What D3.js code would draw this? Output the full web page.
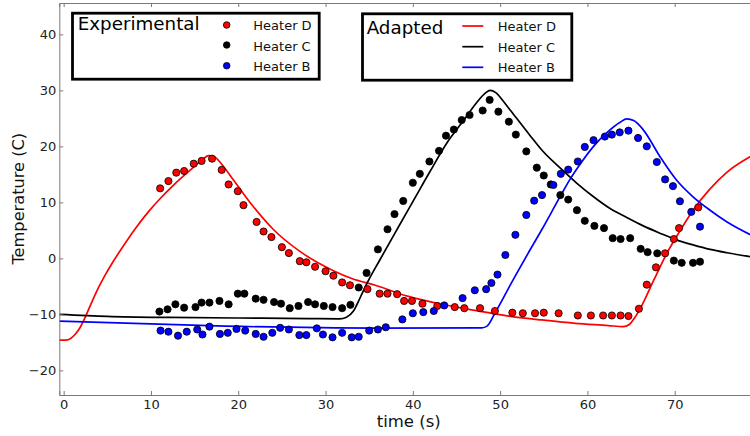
<!DOCTYPE html>
<html>
<head>
<meta charset="utf-8">
<script src="https://cdn.jsdelivr.net/npm/d3@7"></script>
<style>
  html, body { margin: 0; padding: 0; background: #fff; }
  svg { display: block; font-family: "DejaVu Sans", sans-serif; }
</style>
</head>
<body>
<svg id="chart" width="750" height="436"></svg>
<script>
// ---------- data ----------
const xTicks = [0, 10, 20, 30, 40, 50, 60, 70];
const yTicks = [-20, -10, 0, 10, 20, 30, 40];

// Experimental (scatter) [time, temperature]
const expD = [[11.05,12.5],[12.0,13.8],[12.9,15.3],[13.8,15.6],[14.9,16.9],[15.8,17.4],[17.0,17.8],[18.1,15.8],[18.9,13.2],[19.95,12.0],[20.6,9.5],[22.1,6.5],[22.9,4.8],[23.8,3.8],[25.0,2.0],[25.8,0.95],[27.05,-0.5],[27.8,-0.7],[28.8,-1.5],[30.0,-2.3],[30.9,-3.1],[31.9,-4.3],[32.8,-4.8],[34.8,-5.5],[36.2,-6.3],[37.1,-6.3],[38.2,-6.4],[39.0,-7.6],[39.9,-7.6],[41.1,-8.1],[42.8,-8.5],[44.8,-8.7],[45.9,-8.9],[47.7,-8.9],[49.4,-9.4],[51.4,-9.7],[52.6,-9.8],[54.0,-9.8],[55.0,-9.7],[56.7,-9.8],[58.9,-10.2],[60.4,-10.2],[61.8,-10.2],[62.8,-10.2],[63.8,-10.2],[64.7,-10.3],[65.9,-9.0],[66.8,-4.7],[67.85,-1.6],[68.9,0.9],[69.9,3.45],[70.5,5.4],[72.7,9.1]];
const expC = [[10.97,-9.5],[11.9,-9.1],[12.8,-8.2],[13.8,-8.8],[15.1,-8.7],[15.8,-7.9],[16.7,-7.9],[17.85,-7.6],[18.9,-8.2],[19.95,-6.3],[20.7,-6.3],[22.0,-7.2],[22.9,-7.4],[24.1,-7.8],[24.9,-8.1],[25.9,-8.9],[26.9,-8.5],[28.0,-7.8],[28.8,-8.2],[29.8,-8.5],[30.8,-8.7],[31.9,-8.9],[32.85,-8.3],[33.8,-5.2],[34.7,-2.6],[36.0,1.6],[37.1,5.2],[37.9,7.9],[38.9,10.25],[40.0,13.5],[40.8,15.1],[41.9,17.3],[43.0,19.2],[43.8,21.9],[44.7,23.0],[45.6,24.7],[46.5,25.6],[48.0,26.4],[48.8,28.3],[49.8,26.2],[51.0,24.4],[51.8,22.1],[53.0,19.1],[54.2,16.2],[55.0,14.8],[55.8,13.2],[56.9,11.3],[57.8,10.5],[58.8,8.6],[59.7,6.7],[60.8,5.8],[61.9,5.4],[62.9,3.6],[63.8,3.45],[64.9,3.6],[66.1,1.7],[66.9,1.1],[68.0,0.9],[69.9,-0.4],[70.8,-0.8],[72.1,-0.8],[72.9,-0.6]];
const expB = [[11.1,-12.9],[12.0,-13.1],[13.1,-13.8],[14.1,-13.1],[15.3,-12.7],[15.9,-13.6],[16.7,-12.2],[17.9,-13.5],[18.8,-13.3],[19.8,-12.6],[20.8,-12.9],[22.0,-13.5],[22.9,-14.0],[23.9,-13.3],[24.8,-12.4],[25.8,-12.7],[27.0,-13.7],[27.8,-13.7],[29.0,-12.5],[29.7,-13.6],[30.8,-14.1],[31.9,-13.3],[33.0,-14.1],[33.8,-14.0],[35.0,-12.9],[36.0,-12.7],[36.9,-12.3],[38.8,-10.9],[40.0,-9.8],[41.2,-9.6],[42.4,-9.4],[43.6,-8.4],[45.7,-7.1],[47.1,-5.7],[48.4,-5.5],[49.0,-4.4],[49.7,-2.9],[50.6,0.6],[51.75,4.2],[53.0,7.75],[53.9,10.3],[54.8,11.3],[56.1,13.1],[56.95,15.1],[57.8,15.85],[58.9,17.3],[59.7,19.9],[60.7,21.1],[62.0,21.75],[62.8,22.1],[63.7,22.5],[64.7,22.8],[65.8,21.5],[66.8,20.0],[67.95,17.2],[68.9,14.1],[69.8,12.9],[70.6,10.2],[71.9,8.3],[72.9,5.65]];

// Adapted (model lines) [time, temperature]
const modD = [[-0.5,-14.6],[0.3,-14.6],[0.8,-14.3],[1.3,-13.6],[1.9,-12.3],[2.5,-10.4],[3.2,-7.9],[4.0,-5.2],[4.75,-3.0],[5.5,-1.0],[6.7,1.9],[8.2,5.3],[9.7,8.3],[11.25,11.0],[12.8,13.4],[14.3,15.5],[15.8,17.5],[16.6,18.35],[17.3,18.1],[18.1,16.8],[19.45,14.0],[21.7,9.3],[24.0,5.2],[27.1,1.2],[30.9,-2.2],[33.0,-3.6],[35.7,-4.8],[39.5,-6.8],[43.3,-8.2],[47.1,-9.3],[50.95,-10.3],[54.8,-11.0],[58.6,-11.6],[62.4,-12.0],[64.1,-12.2],[64.8,-11.8],[65.5,-10.4],[66.3,-8.2],[67.6,-3.9],[69.1,0.9],[70.6,4.9],[72.1,8.6],[74.05,12.4],[76.0,15.4],[78.7,18.2]];
const modC = [[-0.5,-10.0],[5,-10.35],[12,-10.55],[20,-10.65],[28,-10.75],[31.6,-10.8],[32.4,-10.5],[33.2,-9.4],[34.0,-6.9],[34.8,-4.3],[36.25,-0.2],[38.2,5.2],[40.1,10.4],[42.0,15.6],[43.9,20.6],[45.8,24.6],[47.3,27.8],[48.3,29.5],[48.85,30.0],[49.5,29.6],[50.3,28.2],[51.1,26.6],[53.4,22.0],[54.8,19.3],[56.9,16.1],[58.8,13.4],[60.7,11.0],[62.6,8.9],[64.5,7.3],[66.4,5.8],[68.3,4.5],[70.2,3.3],[72.1,2.4],[74.05,1.6],[76.0,1.0],[78.7,0.3]];
const modB = [[-0.5,-11.2],[18.5,-12.1],[35.7,-12.45],[47.9,-12.4],[48.5,-12.1],[49.4,-9.8],[51.5,-3.8],[53.2,0.9],[54.8,5.2],[56.9,11.1],[58.0,14.1],[59.2,16.9],[60.7,20.0],[62.2,22.4],[63.75,24.3],[64.5,24.9],[65.3,24.6],[66.4,22.95],[68.3,18.2],[70.2,14.0],[72.1,11.0],[74.05,8.6],[76.0,6.5],[78.7,4.2]];

const seriesNames = ["Heater D", "Heater C", "Heater B"];
const seriesColors = ["#ff0000", "#000000", "#0000ff"];

// ---------- layout ----------
const svg = d3.select("#chart");
const plot = {left: 59.3, right: 762, top: 3, bottom: 395};
const x = d3.scaleLinear().domain([-0.5, 80]).range([plot.left, plot.right]);
const y = d3.scaleLinear().domain([-24.4, 45.6]).range([plot.bottom, plot.top]);
const font = "DejaVu Sans";
const spineColor = "#7a7a7a";

svg.append("defs").append("clipPath").attr("id", "clip")
  .append("rect").attr("x", plot.left).attr("y", plot.top)
  .attr("width", plot.right - plot.left).attr("height", plot.bottom - plot.top);

// model lines
const line = d3.line().x(d => x(d[0])).y(d => y(d[1])).curve(d3.curveMonotoneX);
const g = svg.append("g").attr("clip-path", "url(#clip)");
[modD, modC, modB].forEach((s, i) => {
  g.append("path").datum(s).attr("d", line)
    .attr("fill", "none").attr("stroke", seriesColors[i])
    .attr("stroke-width", 1.7).attr("stroke-linejoin", "round");
});
// experimental points
[expD, expC, expB].forEach((s, i) => {
  g.selectAll(null).data(s).enter().append("circle")
    .attr("cx", d => x(d[0])).attr("cy", d => y(d[1])).attr("r", 3.6)
    .attr("fill", seriesColors[i]).attr("stroke", "#000").attr("stroke-width", 0.8);
});

// axes (ticks inward)
const xAxisB = d3.axisBottom(x).tickValues(xTicks).tickSize(-4).tickPadding(5).tickFormat(d3.format("d"));
const xAxisT = d3.axisTop(x).tickValues(xTicks).tickSize(-4).tickFormat("");
const yAxisL = d3.axisLeft(y).tickValues(yTicks).tickSize(-4).tickPadding(3)
  .tickFormat(d => d < 0 ? "\u2212" + Math.abs(d) : String(d));

function styleAxis(sel) {
  sel.select(".domain").attr("stroke", spineColor).attr("stroke-width", 1);
  sel.selectAll(".tick line").attr("stroke", spineColor).attr("stroke-width", 1);
  sel.selectAll(".tick text").attr("fill", "#222").style("font-family", font).style("font-size", "13px");
}
svg.append("g").attr("transform", `translate(0,${plot.bottom})`).call(xAxisB).call(styleAxis);
svg.append("g").attr("transform", `translate(0,${plot.top})`).call(xAxisT).call(styleAxis);
svg.append("g").attr("transform", `translate(${plot.left},0)`).call(yAxisL).call(styleAxis);

// axis titles
svg.append("text").attr("x", 408.7).attr("y", 427).attr("text-anchor", "middle")
  .style("font-family", font).style("font-size", "16.5px").attr("fill", "#111").text("time (s)");
svg.append("text").attr("transform", "translate(23.5,198.7) rotate(-90)").attr("text-anchor", "middle")
  .style("font-family", font).style("font-size", "16.2px").attr("fill", "#111").text("Temperature (C)");

// legends
function legend(box, title, titlePos, kind, markX, labelX, rowYs, labelYs) {
  const lg = svg.append("g");
  lg.append("rect").attr("x", box[0]).attr("y", box[1]).attr("width", box[2]).attr("height", box[3])
    .attr("fill", "#fff").attr("stroke", "#000").attr("stroke-width", 2.8);
  lg.append("text").attr("x", titlePos[0]).attr("y", titlePos[1])
    .style("font-family", font).style("font-size", "18.3px").attr("fill", "#000").text(title);
  seriesNames.forEach((name, i) => {
    if (kind === "marker") {
      lg.append("circle").attr("cx", markX).attr("cy", rowYs[i]).attr("r", 3.3)
        .attr("fill", seriesColors[i]).attr("stroke", "#000").attr("stroke-width", 0.8);
    } else {
      lg.append("line").attr("x1", markX - 10.5).attr("x2", markX + 10.5)
        .attr("y1", rowYs[i]).attr("y2", rowYs[i])
        .attr("stroke", seriesColors[i]).attr("stroke-width", 1.7);
    }
    lg.append("text").attr("x", labelX).attr("y", labelYs[i])
      .style("font-family", font).style("font-size", "13px").attr("fill", "#111").text(name);
  });
}
legend([72.5, 13.2, 246.7, 66], "Experimental", [77.7, 30], "marker", 226.7, 253.3, [25, 45, 65.7], [30, 50.5, 70.7]);
legend([362.5, 13.8, 209.3, 66.4], "Adapted", [366.7, 34], "line", 472.8, 497.7, [26, 46.7, 67.3], [30.7, 51.5, 71.7]);
</script>
</body>
</html>
